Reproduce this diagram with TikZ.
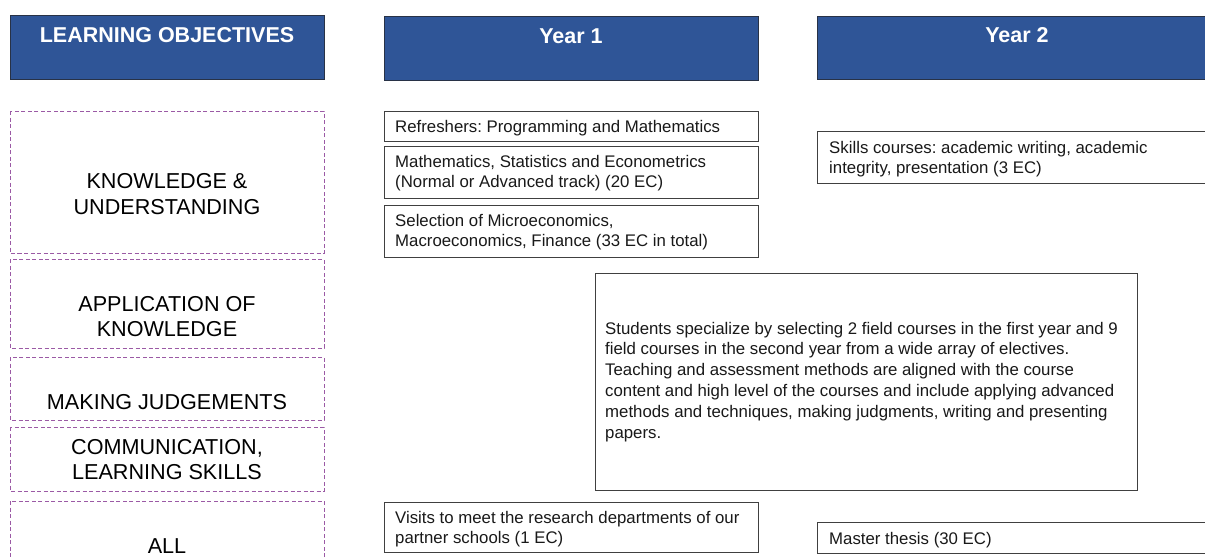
\documentclass[tikz,border=0pt]{standalone}
\usepackage{fontspec}
\setmainfont{Liberation Sans}
\frenchspacing
\definecolor{hdrblue}{RGB}{47,85,151}
\definecolor{hdrline}{RGB}{40,50,70}
\definecolor{objpurple}{RGB}{155,90,165}
\definecolor{boxline}{RGB}{64,64,64}
\begin{document}
\frenchspacing
\begin{tikzpicture}[x=1pt,y=-1pt,
  hdr/.style={draw=hdrline, fill=hdrblue, line width=1pt},
  obj/.style={draw=objpurple, dash pattern=on 4pt off 2.5pt, line width=1pt},
  crs/.style={draw=boxline, line width=1pt, fill=white},
  hdrtxt/.style={text=white, font=\bfseries\fontsize{21.5}{25}\selectfont, inner sep=0pt, anchor=center},
  objtxt/.style={font=\fontsize{21.6}{25.5}\selectfont, align=center, text=black, inner sep=0pt, anchor=center},
  crstxt/.style={font=\fontsize{16.8}{20.8}\selectfont\frenchspacing, align=left, anchor=north west, inner sep=0pt, text=black!90}]
\useasboundingbox (0,0) rectangle (1205,558);
\clip (0,0) rectangle (1205,558);
\fill[white] (0,0) rectangle (1205,558);
% headers
\draw[hdr] (10,15) rectangle (324,79);
\node[hdrtxt] (lo) at (167,35) {LEARNING OBJECTIVES};
\draw[hdr] (384,16) rectangle (758,80);
\node[hdrtxt] (y1) at (571,36) {Year 1};
\draw[hdr] (817,16) rectangle (1225,79);
\node[hdrtxt] (y2) at (1017,35) {Year 2};
% learning objectives
\draw[obj] (10,111) rectangle (324,253);
\node[objtxt] (ku) at (167,194) {KNOWLEDGE \&\\UNDERSTANDING};
\draw[obj] (10,259) rectangle (324,348);
\node[objtxt] (ak) at (167,316.5) {APPLICATION OF\\KNOWLEDGE};
\draw[obj] (10,357) rectangle (324,420);
\node[objtxt] (mj) at (167,402) {MAKING JUDGEMENTS};
\draw[obj] (10,427) rectangle (324,491);
\node[objtxt] (cl) at (167,459.5) {COMMUNICATION,\\LEARNING SKILLS};
\draw[obj] (10,501) rectangle (324,580);
\node[objtxt] (all) at (167,546) {ALL};
% year 1
\draw[crs] (384,111) rectangle (758,141);
\node[crstxt] (ref) at (395,119.7) {Refreshers: Programming and Mathematics};
\draw[crs] (384,146) rectangle (758,198);
\node[crstxt] (math) at (395,154.7) {Mathematics, Statistics and Econometrics\\(Normal or Advanced track) (20 EC)};
\draw[crs] (384,205) rectangle (758,257);
\node[crstxt] (sel) at (395,213.7) {Selection of Microeconomics,\\Macroeconomics, Finance (33 EC in total)};
\draw[crs] (384,502) rectangle (758,552);
\node[crstxt] (vis) at (395,510.7) {Visits to meet the research departments of our\\partner schools (1 EC)};
% year 2
\draw[crs] (817,131) rectangle (1225,183);
\node[crstxt] (skl) at (829,140.7) {Skills courses: academic writing, academic\\integrity, presentation (3 EC)};
\draw[crs] (817,522) rectangle (1225,553);
\node[crstxt] (mt) at (829,531.7) {Master thesis (30 EC)};
% big box
\draw[crs] (595,273) rectangle (1137,490);
\node[crstxt] (big) at (605,321.7) {Students specialize by selecting 2 field courses in the first year and 9\\field courses in the second year from a wide array of electives.\\Teaching and assessment methods are aligned with the course\\content and high level of the courses and include applying advanced\\methods and techniques, making judgments, writing and presenting\\papers.};
\end{tikzpicture}
\end{document}
